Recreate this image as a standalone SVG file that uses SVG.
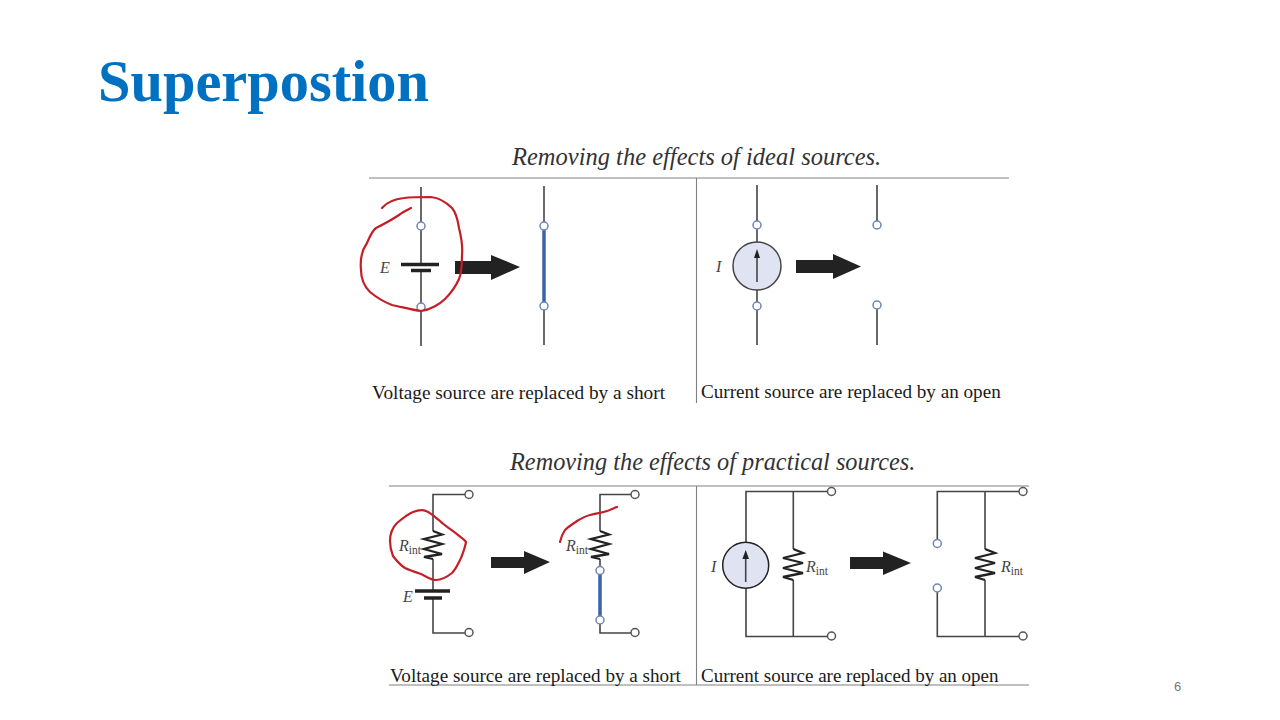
<svg xmlns="http://www.w3.org/2000/svg" width="1280" height="720" viewBox="0 0 1280 720">
<style>
text{font-family:"Liberation Serif","Times New Roman",serif}
.title{font-size:58.400px;font-weight:bold;fill:#0070c0}
.head{font-size:24.500px;font-style:italic;fill:#333}
.cap{font-size:19.150px;fill:#1a1a1a}
.sym{font-size:16px;font-style:italic;fill:#444}
.sub{font-size:11.500px;font-style:normal;fill:#444}
.w{fill:none;stroke:#444;stroke-width:1.6}
.rule{fill:none;stroke:#808080;stroke-width:1.1}
.short{fill:none;stroke:#3a62a8;stroke-width:3.5}
.plate{fill:none;stroke:#222;stroke-width:3.5}
.res{fill:none;stroke:#222;stroke-width:2.300}
.t{fill:#fff;stroke:#6c86b4;stroke-width:1.5}
.g{fill:#fff;stroke:#555;stroke-width:1.5}
.arr{fill:#222}
.src{fill:#dfe3f2;stroke:#444;stroke-width:1.5}
.ink{fill:none;stroke:#c41f27;stroke-width:2.200;stroke-linecap:round;stroke-linejoin:round}
</style>
<rect width="1280" height="720" fill="#fff"/>
<text id="title" class="title" x="98" y="101">Superpostion</text>
<g id="rules">
<path class="rule" d="M369 178H1009M696.500 178V403M389 486H1029M389 685H1029M696.500 486V685"/>
</g>
<g id="labels">
<text class="head" x="512" y="165">Removing the effects of ideal sources.</text>
<text class="head" x="510" y="470" style="font-size:24.300px">Removing the effects of practical sources.</text>
<text class="cap" x="372" y="399" style="font-size:19.300px">Voltage source are replaced by a short</text>
<text class="cap" x="701" y="398">Current source are replaced by an open</text>
<text class="cap" x="390" y="682">Voltage source are replaced by a short</text>
<text class="cap" x="701" y="682" style="font-size:19px">Current source are replaced by an open</text>
<text x="1174" y="691" font-size="13" fill="#777" style="font-family:'Liberation Sans',sans-serif">6</text>
</g>
<g id="connectors">
<path class="w" d="M421 187V264M421 271V346"/>
<path class="w" d="M544 186V345"/>
<path class="short" d="M544 226V306"/>
<path class="w" d="M757 185V345"/>
<path class="w" d="M877 185V221M877 309V345"/>
<path class="w" d="M465 494.500H433V531M433 559V591M433 598V633H465"/>
<path class="w" d="M631 494.500H600V531M600 559V567M600 624V633H631"/>
<path class="short" d="M600 574V616"/>
<path class="w" d="M827.500 491.500H746V542M746 588V636.500H827.500M793.300 491.500V549M793.300 580V636.500"/>
<path class="w" d="M1019 491.500H937.300V539.500M937.300 592V636.500H1019M985 491.500V549M985 580V636.500"/>
</g>
<g id="ideal-voltage">
<path class="plate" d="M401 264.500H439"/>
<path class="plate" d="M411 270.500H431" stroke-width="4"/>
<circle class="t" cx="421" cy="226" r="4"/><circle class="t" cx="421" cy="307" r="4"/>
<text class="sym" x="380" y="273">E</text>
<path class="arr" d="M455 261H491V255L520 267L491 280V274H455Z"/>
</g>
<g id="ideal-short">
<circle class="t" cx="544" cy="226" r="4"/><circle class="t" cx="544" cy="306" r="4"/>
</g>
<g id="ideal-current">
<circle class="src" cx="757" cy="266" r="24"/>
<path class="w" d="M757 282V256"/><path class="arr" d="M757 249L760 258H754Z"/>
<circle class="t" cx="757" cy="225" r="4"/><circle class="t" cx="757" cy="306" r="4"/>
<text class="sym" x="716" y="272">I</text>
<path class="arr" d="M796 260H833V254L861 266.500L833 279V273H796Z"/>
</g>
<g id="ideal-open">
<circle class="t" cx="877" cy="225" r="4"/><circle class="t" cx="877" cy="305" r="4"/>
</g>
<g id="practical-voltage">
<path class="res" d="M433 531L442 534.500L424 539L442 544L424 549L442 554L424 557L433 559"/>
<path class="plate" d="M415 591H450"/><path class="plate" d="M424 598H442"/>
<circle class="g" cx="469" cy="494.500" r="4"/><circle class="g" cx="469" cy="632.500" r="4"/>
<text class="sym" x="399" y="551">R<tspan class="sub" dy="3">int</tspan></text>
<text class="sym" x="403" y="602">E</text>
<path class="arr" d="M491 557H524V551L550 562L524 574V568H491Z"/>
</g>
<g id="practical-short">
<path class="res" d="M600 531L609 534.500L591 539L609 544L591 549L609 554L591 557L600 559"/>
<circle class="t" cx="600" cy="570.500" r="4"/><circle class="t" cx="600" cy="620" r="4"/>
<circle class="g" cx="635" cy="494.500" r="4"/><circle class="g" cx="635" cy="632.500" r="4"/>
<text class="sym" x="566" y="551">R<tspan class="sub" dy="3">int</tspan></text>
</g>
<g id="practical-current">
<circle class="src" cx="745.700" cy="565.300" r="23" stroke-width="2.500" style="stroke:#222"/>
<path class="w" d="M745.700 582V557"/><path class="arr" d="M745.700 550L749 559H742.400Z"/>
<path class="res" d="M793.300 549L803 553L783 558L803 563L783 568L803 573L783 577L793.300 580"/>
<circle class="g" cx="831.500" cy="491.500" r="4"/><circle class="g" cx="831.500" cy="636" r="4"/>
<text class="sym" x="711" y="572">I</text>
<text class="sym" x="806" y="572">R<tspan class="sub" dy="3">int</tspan></text>
<path class="arr" d="M850 557H883V551.500L911 563L883 575V569H850Z"/>
</g>
<g id="practical-open">
<path class="res" d="M985 549L995 553L975 558L995 563L975 568L995 573L975 577L985 580"/>
<circle class="t" cx="937.300" cy="543.500" r="4"/><circle class="t" cx="937.300" cy="588" r="4"/>
<circle class="g" cx="1023" cy="491.500" r="4"/><circle class="g" cx="1023" cy="636" r="4"/>
<text class="sym" x="1001" y="572">R<tspan class="sub" dy="3">int</tspan></text>
</g>
<g id="annotations">
<path class="ink" d="M382 208C387 202 394 199 404 198C412 197 422 197 431 197C440 198 446 202 452 208C457 214 458 222 459 228C461 236 463 245 462 255C462 265 462 272 459 279C455 288 451 293 445 299C440 304 430 310 421 311C412 310 402 307 392 305C384 302 376 297 370 292C365 287 361 280 361 270C360 260 362 250 367 243C370 236 372 231 376 228C384 224 393 219 399 215C403 212 407 210 411 208"/>
<path class="ink" d="M390 541C390 533 393 527 397 523C403 518 408 514 413 512C418 510 422 509 426 511C431 513 435 517 440 521C445 526 452 530 458 535C462 538 465 540 466 542C465 548 463 553 461 558C458 564 456 569 452 573C447 577 442 580 436 580C430 580 426 576 421 574C415 572 409 570 405 568C400 565 396 560 393 556C391 551 390 546 390 541Z"/>
<path class="ink" d="M560 542C561 537 563 533 565 530C569 526 573 524 577 521C582 518 586 516 590 515C596 513 602 513 607 511C611 510 614 508 617 507"/>
</g>
</svg>
